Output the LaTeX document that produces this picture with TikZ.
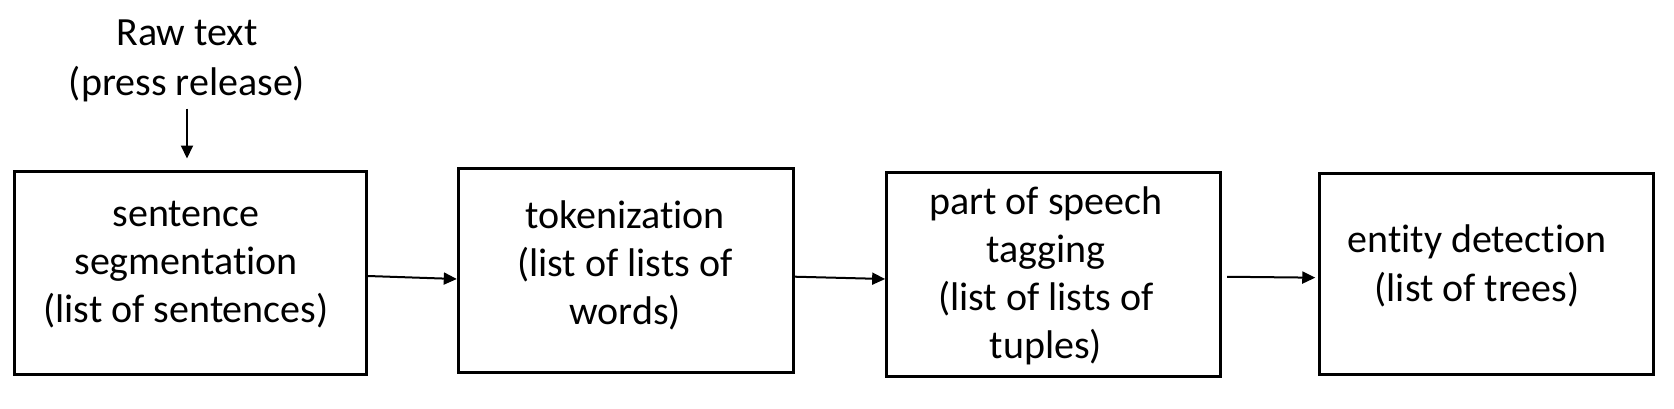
\documentclass[tikz,border=0pt]{standalone}
\usepackage{fontspec}
\setmainfont{Carlito}[Ligatures={NoCommon,NoContextual}]
\usetikzlibrary{arrows.meta}
\begin{document}
\begin{tikzpicture}[x=1pt,y=-1pt,
  box/.style={draw=black, line width=3pt, rectangle, inner sep=0pt},
  lbl/.style={align=center, inner sep=0pt, font=\fontsize{40}{48}\selectfont},
  arr/.style={line width=2pt, -{Triangle[length=13pt,width=12pt]}}]
\useasboundingbox (0,0) rectangle (1674,408);
% boxes
\node[box, minimum width=352pt, minimum height=203pt] (b1) at (190.5,272.5) {};
\node[box, minimum width=335pt, minimum height=203.7pt] (b2) at (625.8,270.8) {};
\node[box, minimum width=334.3pt, minimum height=204pt] (b3) at (1053.8,274.7) {};
\node[box, minimum width=334.3pt, minimum height=200.7pt] (b4) at (1486.2,273.7) {};
% texts (base anchor = baseline of last line)
\node[lbl, anchor=base, font=\fontsize{40}{50}\selectfont] (raw) at (187,95) {Raw text\\(press release)};
\node[lbl, anchor=base] (t1) at (186,322) {sentence\\segmentation\\(list of sentences)};
\node[lbl, anchor=base] (t2) at (625,324) {tokenization\\(list of lists of\\words)};
\node[lbl, anchor=base] (t3) at (1046,358) {part of speech\\tagging\\(list of lists of\\tuples)};
\node[lbl, anchor=base, font=\fontsize{40}{49}\selectfont] (t4) at (1477,301) {entity detection\\(list of trees)};
% connectors
\draw[arr, shorten <=7pt, shorten >=11pt] (raw.south) -- (raw.south |- b1.north);
\draw[arr] ([yshift=-3.5pt]b1.east) -- ([yshift=-8.2pt]b2.west);
\draw[arr] ([yshift=-5.9pt]b2.east) -- ([yshift=-4.3pt]b3.west);
\draw[arr, shorten <=4.7pt, shorten >=2.3pt] ([yshift=-2pt]b3.east) -- ([yshift=-4pt]b4.west);
\end{tikzpicture}
\end{document}
